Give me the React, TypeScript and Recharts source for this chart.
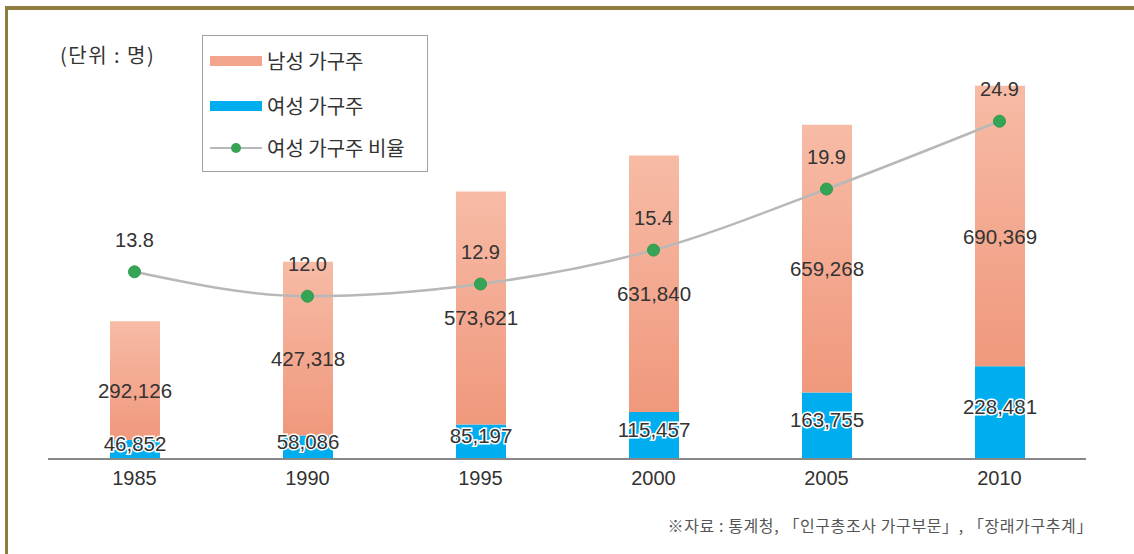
import { ComposedChart, Bar, Line, XAxis, YAxis, LabelList } from 'recharts'

const years = ['1985', '1990', '1995', '2000', '2005', '2010']
const maleHouseholders = [292126, 427318, 573621, 631840, 659268, 690369]
const femaleHouseholders = [46852, 58086, 85197, 115457, 163755, 228481]
const femaleRatio = [13.8, 12.0, 12.9, 15.4, 19.9, 24.9]

const data = years.map((year, i) => ({
  year,
  male: maleHouseholders[i],
  female: femaleHouseholders[i],
  ratio: femaleRatio[i],
}))

const NUM_FONT = '"Liberation Sans", Arial, sans-serif'
const KR_FONT = '"Noto Sans CJK KR", "Noto Sans", sans-serif'

const fmt = (v: number) => v.toLocaleString('en-US')

const MaleLabel = (p: any) => (
  <text
    x={p.x + p.width / 2}
    y={p.y + p.height / 2 + 10}
    textAnchor="middle"
    dominantBaseline="central"
    fontSize={20.5}
    fontFamily={NUM_FONT}
    fill="#333"
  >
    {fmt(p.value)}
  </text>
)

const FemaleLabel = (p: any) => (
  <text
    x={p.x + p.width / 2}
    y={p.y + p.height / 2 - 6}
    textAnchor="middle"
    dominantBaseline="central"
    fontSize={20.5}
    fontFamily={NUM_FONT}
    fill="#333"
    stroke="#fff"
    strokeWidth={3}
    paintOrder="stroke"
  >
    {fmt(p.value)}
  </text>
)

const RatioLabel = (p: any) => (
  <text
    x={p.x}
    y={p.y - 32}
    textAnchor="middle"
    dominantBaseline="central"
    fontSize={20}
    fontFamily={NUM_FONT}
    fill="#333"
  >
    {Number(p.value).toFixed(1)}
  </text>
)

export default function App() {
  return (
    <div style={{ position: 'absolute', left: 0, top: 0, width: 1134, height: 554, background: '#fff', overflow: 'hidden' }}>
      {/* frame */}
      <div style={{ position: 'absolute', left: 5, top: 6, right: -10, bottom: -10, borderTop: '4px solid #8f7d40', borderLeft: '3px solid #8f7d40' }} />

      <ComposedChart
        width={1134}
        height={554}
        data={data}
        margin={{ top: 48, right: 48, bottom: 0, left: 48 }}
        style={{ position: 'absolute', left: 0, top: 0 }}
      >
        <defs>
          <linearGradient id="maleGrad" x1="0" y1="0" x2="0" y2="1">
            <stop offset="0%" stopColor="#f7bba6" />
            <stop offset="100%" stopColor="#f0987c" />
          </linearGradient>
        </defs>
        <XAxis
          dataKey="year"
          height={95}
          axisLine={{ stroke: '#888', strokeWidth: 2 }}
          tickLine={false}
          tickMargin={6}
          tick={{ fontSize: 20, fill: '#333', fontFamily: NUM_FONT }}
        />
        <YAxis
          yAxisId="left"
          width={0}
          domain={[0, 1012000]}
          tick={false}
          tickLine={false}
          axisLine={{ stroke: '#888', strokeWidth: 2 }}
        />
        <YAxis yAxisId="right" orientation="right" hide domain={[0, 30.3]} />
        <Bar yAxisId="left" dataKey="female" stackId="a" fill="#00aeef" barSize={50} isAnimationActive={false}>
          <LabelList dataKey="female" content={FemaleLabel} />
        </Bar>
        <Bar yAxisId="left" dataKey="male" stackId="a" fill="url(#maleGrad)" barSize={50} isAnimationActive={false}>
          <LabelList dataKey="male" content={MaleLabel} />
        </Bar>
        <Line
          yAxisId="right"
          type="monotone"
          dataKey="ratio"
          stroke="#b8b8b8"
          strokeWidth={2.5}
          dot={{ r: 6, fill: '#36a455', stroke: '#2f9a4c', strokeWidth: 1 }}
          isAnimationActive={false}
        >
          <LabelList dataKey="ratio" content={RatioLabel} />
        </Line>
      </ComposedChart>

      <div style={{ position: 'absolute', left: 60, top: 41, fontSize: 20, fontFamily: KR_FONT, color: '#333', lineHeight: '28px', letterSpacing: 1.5, whiteSpace: 'pre' }}>
        (단위 : 명)
      </div>

      {/* legend */}
      <div style={{ position: 'absolute', left: 202, top: 35, width: 224, height: 135, border: '1.5px solid #a0a0a0', background: '#fff', fontFamily: KR_FONT, fontSize: 20, color: '#333' }}>
        <div style={{ position: 'absolute', left: 7, top: 20, width: 52, height: 10, background: '#f2a58c' }} />
        <div style={{ position: 'absolute', left: 64, top: 11, lineHeight: '28px' }}>남성 가구주</div>
        <div style={{ position: 'absolute', left: 7, top: 65, width: 52, height: 10, background: '#00aeef' }} />
        <div style={{ position: 'absolute', left: 64, top: 56, lineHeight: '28px' }}>여성 가구주</div>
        <div style={{ position: 'absolute', left: 7, top: 111, width: 52, height: 2, background: '#b8b8b8' }} />
        <div style={{ position: 'absolute', left: 28, top: 107, width: 10, height: 10, borderRadius: 5, background: '#36a455' }} />
        <div style={{ position: 'absolute', left: 64, top: 98, lineHeight: '28px' }}>여성 가구주 비율</div>
      </div>

      <div style={{ position: 'absolute', right: 41, top: 514, fontSize: 16, fontFamily: KR_FONT, color: '#555', lineHeight: '22px', whiteSpace: 'pre', letterSpacing: 0.6 }}>
        ※자료 : 통계청, 「인구총조사 가구부문」, 「장래가구추계」
      </div>
    </div>
  )
}
